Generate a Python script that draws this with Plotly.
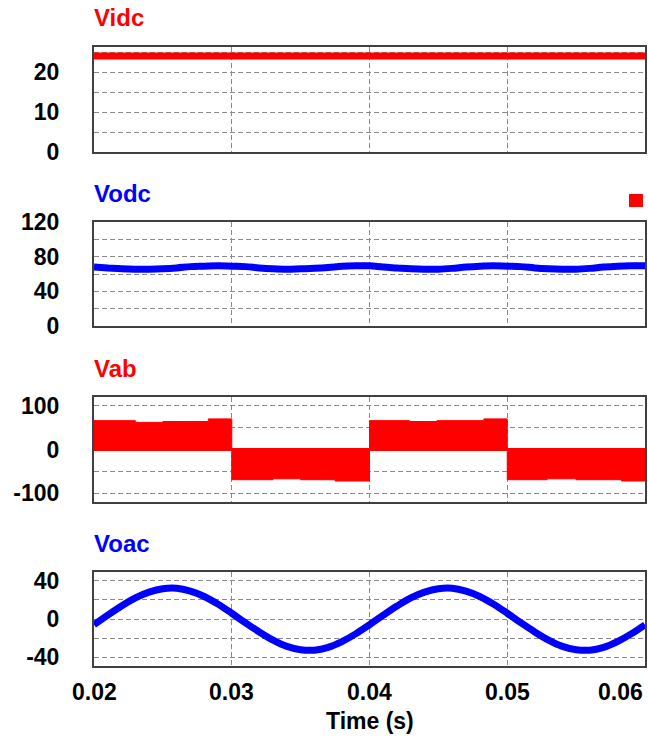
import plotly.graph_objects as go

# ---- sampled waveforms (time in seconds) ----
t = [round(0.020 + 0.001 * k, 3) for k in range(41)]

vidc = [24.0] * len(t)

vodc = [68, 67, 66, 65.5, 65.5, 66, 67, 68.5, 69, 69.5,
        69, 68.5, 67, 66, 65.5, 66, 66.5, 67.5, 69, 69.5,
        69.5, 68, 67, 66, 65.5, 65.5, 66.5, 68, 69, 69.5,
        69, 68.5, 67, 66, 65.5, 65.5, 66.5, 68, 69, 69.5, 69.5]

voac = [-6.0, 4.0, 13.5, 22.0, 28.0, 31.5, 32.0, 29.0, 23.5, 15.5,
        6.0, -4.0, -13.5, -22.0, -28.5, -32.0, -32.5, -29.5, -23.5, -15.5,
        -6.0, 4.0, 13.5, 22.0, 28.0, 31.5, 32.0, 29.0, 23.5, 15.5,
        6.0, -4.0, -13.5, -22.0, -28.5, -32.0, -32.5, -29.5, -23.5, -15.5, -6.0]

# Vab: PWM bridge output, envelope level per interval (step-wise)
vab_t = [0.020, 0.023, 0.025, 0.0283, 0.030, 0.033, 0.035, 0.0375, 0.040,
         0.0429, 0.0449, 0.0483, 0.050, 0.0529, 0.055, 0.0583, 0.060]
vab_v = [66, 62, 64, 70, -69, -67, -69, -72, 66,
         64, 66, 70, -69, -67, -69, -72, -72]

# ---- axes ----
x_ticks = [0.02, 0.03, 0.04, 0.05, 0.06]
x_tick_labels = ["0.02", "0.03", "0.04", "0.05", "0.06"]

y1_ticks = [0, 5, 10, 15, 20, 25]
y1_labels = ["0", "", "10", "", "20", ""]
y2_ticks = [0, 20, 40, 60, 80, 100, 120]
y2_labels = ["0", "", "40", "", "80", "", "120"]
y3_ticks = [-100, -50, 0, 50, 100]
y3_labels = ["-100", "", "0", "", "100"]
y4_ticks = [-40, -20, 0, 20, 40]
y4_labels = ["-40", "", "0", "", "40"]

titles = ["Vidc", "Vodc", "Vab", "Voac"]
RED = "#FF0000"
BLUE = "#0000FF"

W, H = 648, 740
ML, MR = 94, 3
PW = W - ML - MR


def fy(p):
    return 1 - p / H


def fx(p):
    return (p - ML) / PW


# panel pixel extents (top, bottom) and title centre y
panels = [(47, 152, 18), (222, 326, 193), (397, 502, 368), (572, 666, 543)]

FONT = "Arial, Liberation Sans, sans-serif"
GRID = "#8a8a8a"
FRAME = "#404040"

fig = go.Figure()

fig.add_trace(go.Scatter(x=t, y=vidc, mode="lines", line=dict(color=RED, width=7),
                         xaxis="x", yaxis="y", showlegend=False))
fig.add_trace(go.Scatter(x=t, y=vodc, mode="lines", line=dict(color=BLUE, width=7, shape="spline"),
                         xaxis="x2", yaxis="y2", showlegend=False))
fig.add_trace(go.Scatter(x=vab_t, y=vab_v, mode="lines", line=dict(color=RED, width=1, shape="hv"),
                         fill="tozeroy", fillcolor=RED, xaxis="x3", yaxis="y3", showlegend=False))
fig.add_trace(go.Scatter(x=[vab_t[0], vab_t[-1]], y=[0, 0], mode="lines", line=dict(color=RED, width=3),
                         xaxis="x3", yaxis="y3", showlegend=False))
fig.add_trace(go.Scatter(x=t, y=voac, mode="lines", line=dict(color=BLUE, width=7, shape="spline"),
                         xaxis="x4", yaxis="y4", showlegend=False))

y_specs = [
    ([0, 26.25], y1_ticks, y1_labels),
    ([0, 120], y2_ticks, y2_labels),
    ([-120, 120], y3_ticks, y3_labels),
    ([-49, 49], y4_ticks, y4_labels),
]

layout = dict(
    template="none",
    width=W, height=H, autosize=False,
    margin=dict(l=ML, r=MR, t=0, b=0, pad=0, autoexpand=False),
    paper_bgcolor="white", plot_bgcolor="white",
    font=dict(family=FONT, size=23, color="black"),
    showlegend=False,
)

for i, ((top, bot, _), (yr, yt, yl)) in enumerate(zip(panels, y_specs)):
    n = "" if i == 0 else str(i + 1)
    layout["xaxis" + n] = dict(
        domain=[0, 1], anchor="y" + n, range=[0.02, 0.06],
        tickvals=x_ticks, showticklabels=False, ticks="",
        showgrid=True, gridcolor=GRID, gridwidth=1, griddash="5px,3px",
        showline=True, mirror=True, linecolor=FRAME, linewidth=2,
        zeroline=False, fixedrange=True, automargin=False,
    )
    layout["yaxis" + n] = dict(
        domain=[fy(bot), fy(top)], anchor="x" + n, range=yr,
        tickvals=yt, ticktext=yl, ticks="",
        tickfont=dict(family=FONT, size=23, color="black", weight="bold"),
        ticklabelstandoff=28,
        showgrid=True, gridcolor=GRID, gridwidth=1, griddash="5px,3px",
        showline=True, mirror=True, linecolor=FRAME, linewidth=2,
        zeroline=False, fixedrange=True, automargin=False,
    )

annotations = []
for (top, bot, ty), name, col in zip(panels, titles, [RED, BLUE, RED, BLUE]):
    annotations.append(dict(
        text=name, xref="paper", yref="paper", x=fx(92), y=fy(ty),
        xanchor="left", yanchor="middle", showarrow=False,
        font=dict(family=FONT, size=24, color=col, weight="bold"),
    ))

for xv, lab in zip(x_ticks, x_tick_labels):
    annotations.append(dict(
        text=lab, xref="x4", yref="paper", x=xv, y=fy(692),
        xanchor="right" if xv == x_ticks[-1] else "center", yanchor="middle",
        showarrow=False, font=dict(family=FONT, size=23, color="black", weight="bold"),
    ))

annotations.append(dict(
    text="Time (s)", xref="paper", yref="paper", x=0.5, y=fy(721),
    xanchor="center", yanchor="middle", showarrow=False,
    font=dict(family=FONT, size=23, color="black", weight="bold"),
))

layout["annotations"] = annotations

# small red marker square at the top right of the second panel
layout["shapes"] = [dict(
    type="rect", xref="paper", yref="paper",
    x0=fx(629), x1=fx(643), y0=fy(207), y1=fy(194),
    fillcolor=RED, line=dict(width=0),
)]

fig.update_layout(**layout)
fig.write_html("out.html")
